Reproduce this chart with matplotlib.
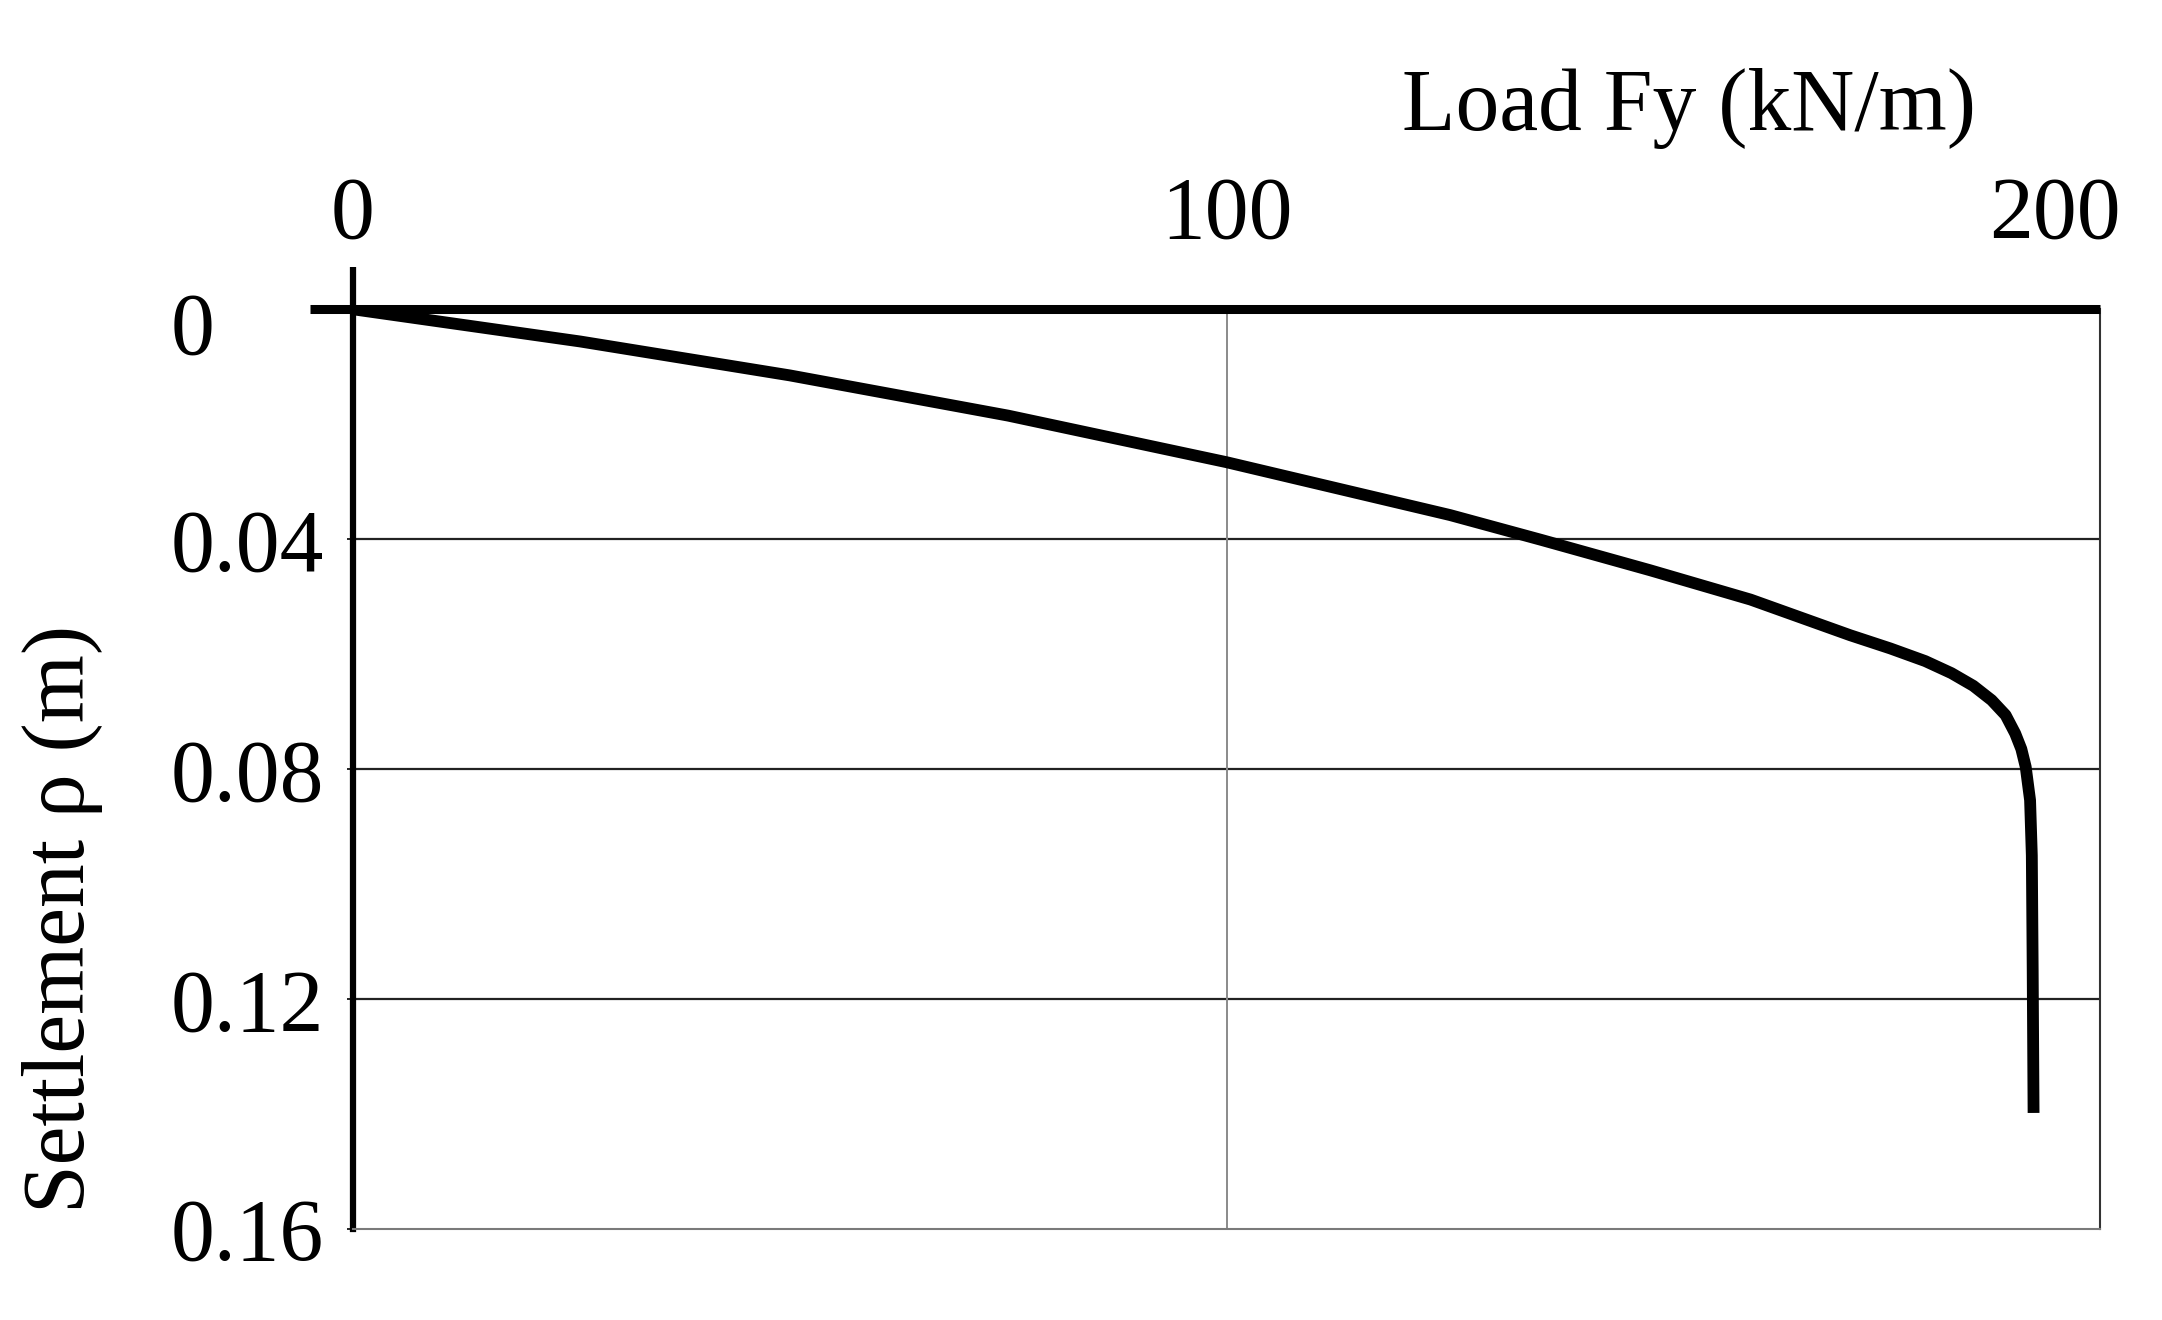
import matplotlib
matplotlib.use("Agg")
import matplotlib.pyplot as plt
import matplotlib.transforms as mtransforms

# load-settlement curve
load = [0, 26, 50, 75, 100, 125.6, 136, 148.5, 160, 171.4, 176, 180, 183,
        185.5, 187.6, 189.2, 190.3, 191.0, 191.5, 192.0, 192.2, 192.3, 192.4]
settlement = [0, 0.0056, 0.0115, 0.0185, 0.0266, 0.0358, 0.0401, 0.0454, 0.0505,
              0.0567, 0.0590, 0.0612, 0.0633, 0.0655, 0.0680, 0.0706, 0.0738,
              0.0765, 0.0796, 0.0854, 0.0950, 0.115, 0.1398]

x_ticks = [0, 100, 200]
y_ticks = [0, 0.04, 0.08, 0.12, 0.16]
y_ticklabels = ['0', '0.04', '0.08', '0.12', '0.16']

plt.rcParams['font.family'] = ['Liberation Serif', 'DejaVu Serif']

fig = plt.figure(figsize=(21.62, 13.2), dpi=100)
ax = fig.add_axes([0.1633, 0.0689, 0.8080, 0.6968])

ax.plot(load, settlement, color='black', lw=8.5, solid_capstyle='butt',
        solid_joinstyle='round', zorder=5)

ax.set_xlim(0, 200)
ax.set_ylim(0.16, 0)
ax.set_xticks(x_ticks)
ax.set_xticklabels([str(v) for v in x_ticks])
ax.set_yticks(y_ticks)
ax.set_yticklabels(y_ticklabels, ha='left')

ax.xaxis.tick_top()
ax.xaxis.set_label_position('top')
ax.tick_params(axis='x', length=0, pad=38, labelsize=63)
ax.tick_params(axis='y', length=4, width=1.2, pad=127, labelsize=63, direction='out')

# grid: horizontal dark, vertical light
for v in y_ticks[1:-1]:
    ax.axhline(v, color='#222222', lw=1.6, zorder=1)
ax.axvline(100, color='#8a8a8a', lw=1.4, zorder=1)

ax.spines['left'].set_linewidth(4.5)
ax.spines['top'].set_linewidth(6.5)
ax.spines['top'].set_capstyle('butt')
ax.spines['right'].set_linewidth(1.5)
ax.spines['right'].set_color('#333333')
ax.spines['bottom'].set_linewidth(1.5)
ax.spines['bottom'].set_color('#7a7a7a')

# axis lines stick out past the corner
ax.plot([-0.0246, 0], [1, 1], transform=ax.transAxes, color='black', lw=6.5,
        clip_on=False, solid_capstyle='butt')
ax.plot([0, 0], [1, 1.046], transform=ax.transAxes, color='black', lw=4.5,
        clip_on=False, solid_capstyle='butt')

# small shifts of edge labels
lbl200 = ax.get_xticklabels()[-1]
lbl200.set_transform(lbl200.get_transform() +
                     mtransforms.ScaledTranslation(-0.45, 0, fig.dpi_scale_trans))
lbl0 = ax.get_yticklabels()[0]
lbl0.set_transform(lbl0.get_transform() +
                   mtransforms.ScaledTranslation(0, -0.13, fig.dpi_scale_trans))

ax.set_xlabel('Load Fy (kN/m)', fontsize=63)
ax.xaxis.label.set_va('center')
ax.xaxis.set_label_coords(0.765, 1.2185)
ax.set_ylabel('Settlement ρ (m)', fontsize=63)
ax.yaxis.label.set_va('center')
ax.yaxis.set_label_coords(-0.1666, 0.337)

fig.savefig('out.png', dpi=100)
